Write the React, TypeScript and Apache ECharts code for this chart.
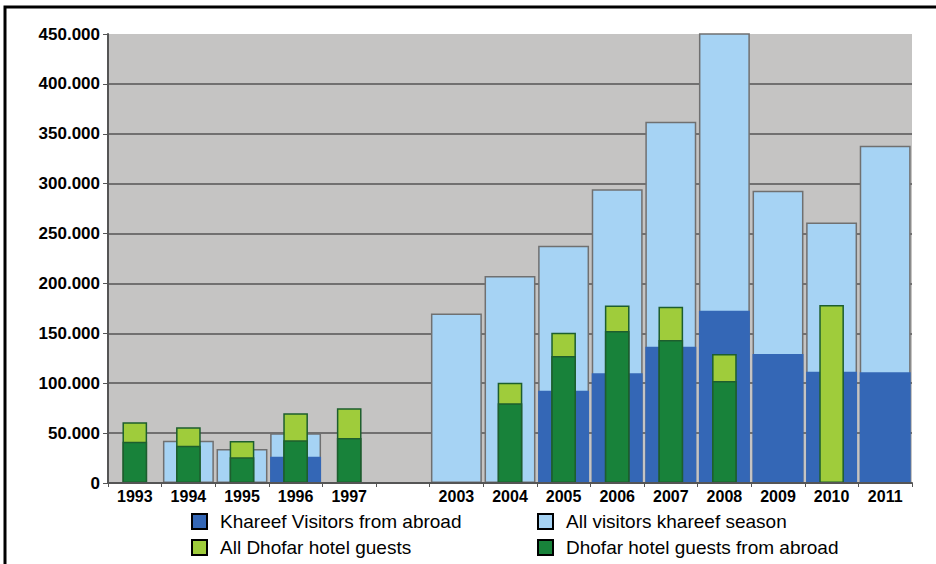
import React, { useEffect, useRef } from "react";
import * as echarts from "echarts";

const categories = ["1993", "1994", "1995", "1996", "1997", "", "2003", "2004", "2005", "2006", "2007", "2008", "2009", "2010", "2011"];
const allVisitors = [null, 42400, 34000, 49800, null, null, 170000, 207500, 237800, 294300, 362000, 470000, 293000, 261000, 338000];
const abroadVisitors = [null, null, null, 26400, null, null, null, null, 92500, 110000, 136600, 172700, 129300, 111500, 110900];
const allHotel = [61000, 55800, 42000, 70000, 75000, null, null, 100500, 150600, 178000, 176700, 129300, null, 178400, null];
const abroadHotel = [41400, 37400, 25700, 42800, 45000, null, null, 79900, 127300, 152300, 143300, 102200, null, null, null];
const yTicks = [0, 50000, 100000, 150000, 200000, 250000, 300000, 350000, 400000, 450000];

const NAME_ABROAD = "Khareef Visitors from abroad";
const NAME_ALL = "All visitors khareef season";
const NAME_HOTEL = "All Dhofar hotel guests";
const NAME_HOTEL_ABROAD = "Dhofar hotel guests from abroad";

const C_LIGHTBLUE = "#a6d3f4";
const C_DARKBLUE = "#3467b6";
const C_LIGHTGREEN = "#9fcc3b";
const C_DARKGREEN = "#18823a";

function fmt(v: number) {
  return String(v).replace(/\B(?=(\d{3})+(?!\d))/g, ".");
}

export default function App() {
  const ref = useRef<HTMLDivElement>(null);
  useEffect(() => {
    if (!ref.current) return;
    const chart = echarts.init(ref.current, null, { renderer: "svg" });
    const axisFont = { fontFamily: "Liberation Sans", fontWeight: "bold" as const, fontSize: 16, color: "#000" };
    const legendText = { fontFamily: "Liberation Sans", fontSize: 19, color: "#000", padding: [0, 0, 0, 8] };
    const mkLegend = (name: string, left: number, top: number) => ({
      left,
      top,
      orient: "horizontal",
      padding: 0,
      itemWidth: 15,
      itemHeight: 15,
      icon: "rect",
      itemStyle: { borderColor: "#000", borderWidth: 2 },
      textStyle: legendText,
      data: [name],
    });
    chart.setOption({
      animation: false,
      backgroundColor: "#fff",
      graphic: [
        {
          type: "rect",
          shape: { x: 5, y: 7, width: 940, height: 570 },
          style: { fill: "none", stroke: "#000", lineWidth: 3 },
          z: 100,
        },
      ],
      legend: [
        mkLegend(NAME_ABROAD, 191, 512),
        mkLegend(NAME_HOTEL, 191, 538),
        mkLegend(NAME_ALL, 537, 512),
        mkLegend(NAME_HOTEL_ABROAD, 537, 538),
      ],
      grid: {
        left: 108,
        right: 24,
        top: 34,
        bottom: 81,
        show: true,
        backgroundColor: "#c5c4c3",
        borderWidth: 0,
      },
      xAxis: [
        {
          type: "category",
          data: categories,
          axisLine: { lineStyle: { color: "#555", width: 2 } },
          axisTick: { show: true, length: 4, lineStyle: { color: "#555" } },
          axisLabel: { ...axisFont, margin: 5, interval: 0 },
          z: 10,
        },
        {
          type: "category",
          data: categories,
          show: false,
        },
      ],
      yAxis: {
        type: "value",
        min: 0,
        max: 450000,
        interval: 50000,
        axisLine: { show: true, lineStyle: { color: "#555", width: 2 } },
        axisTick: { show: true, length: 5, lineStyle: { color: "#555" } },
        axisLabel: { ...axisFont, fontSize: 17, margin: 8, formatter: (v: number) => fmt(v) },
        splitLine: {
          show: true,
          lineStyle: {
            color: yTicks.map((t) => (t === 450000 ? "rgba(0,0,0,0)" : "#555")),
            width: 1.5,
          },
        },
      },
      series: [
        {
          name: NAME_ALL,
          type: "bar",
          xAxisIndex: 0,
          data: allVisitors,
          barWidth: "95%",
          barGap: "-100%",
          itemStyle: { color: C_LIGHTBLUE, borderColor: "#707070", borderWidth: 1.5 },
          z: 2,
        },
        {
          name: NAME_ABROAD,
          type: "bar",
          xAxisIndex: 0,
          data: abroadVisitors,
          barWidth: "95%",
          barGap: "-100%",
          itemStyle: { color: C_DARKBLUE, borderWidth: 0 },
          z: 3,
        },
        {
          name: NAME_HOTEL,
          type: "bar",
          xAxisIndex: 1,
          data: allHotel,
          barWidth: "46%",
          barGap: "-100%",
          itemStyle: { color: C_LIGHTGREEN, borderColor: "#1d5e2e", borderWidth: 1.5 },
          z: 4,
        },
        {
          name: NAME_HOTEL_ABROAD,
          type: "bar",
          xAxisIndex: 1,
          data: abroadHotel,
          barWidth: "46%",
          barGap: "-100%",
          itemStyle: { color: C_DARKGREEN, borderColor: "#1d5e2e", borderWidth: 1.5 },
          z: 5,
        },
      ],
    });
    return () => chart.dispose();
  }, []);
  return (
    <div
      ref={ref}
      style={{ position: "fixed", left: 0, top: 0, width: 936, height: 564 }}
    />
  );
}
